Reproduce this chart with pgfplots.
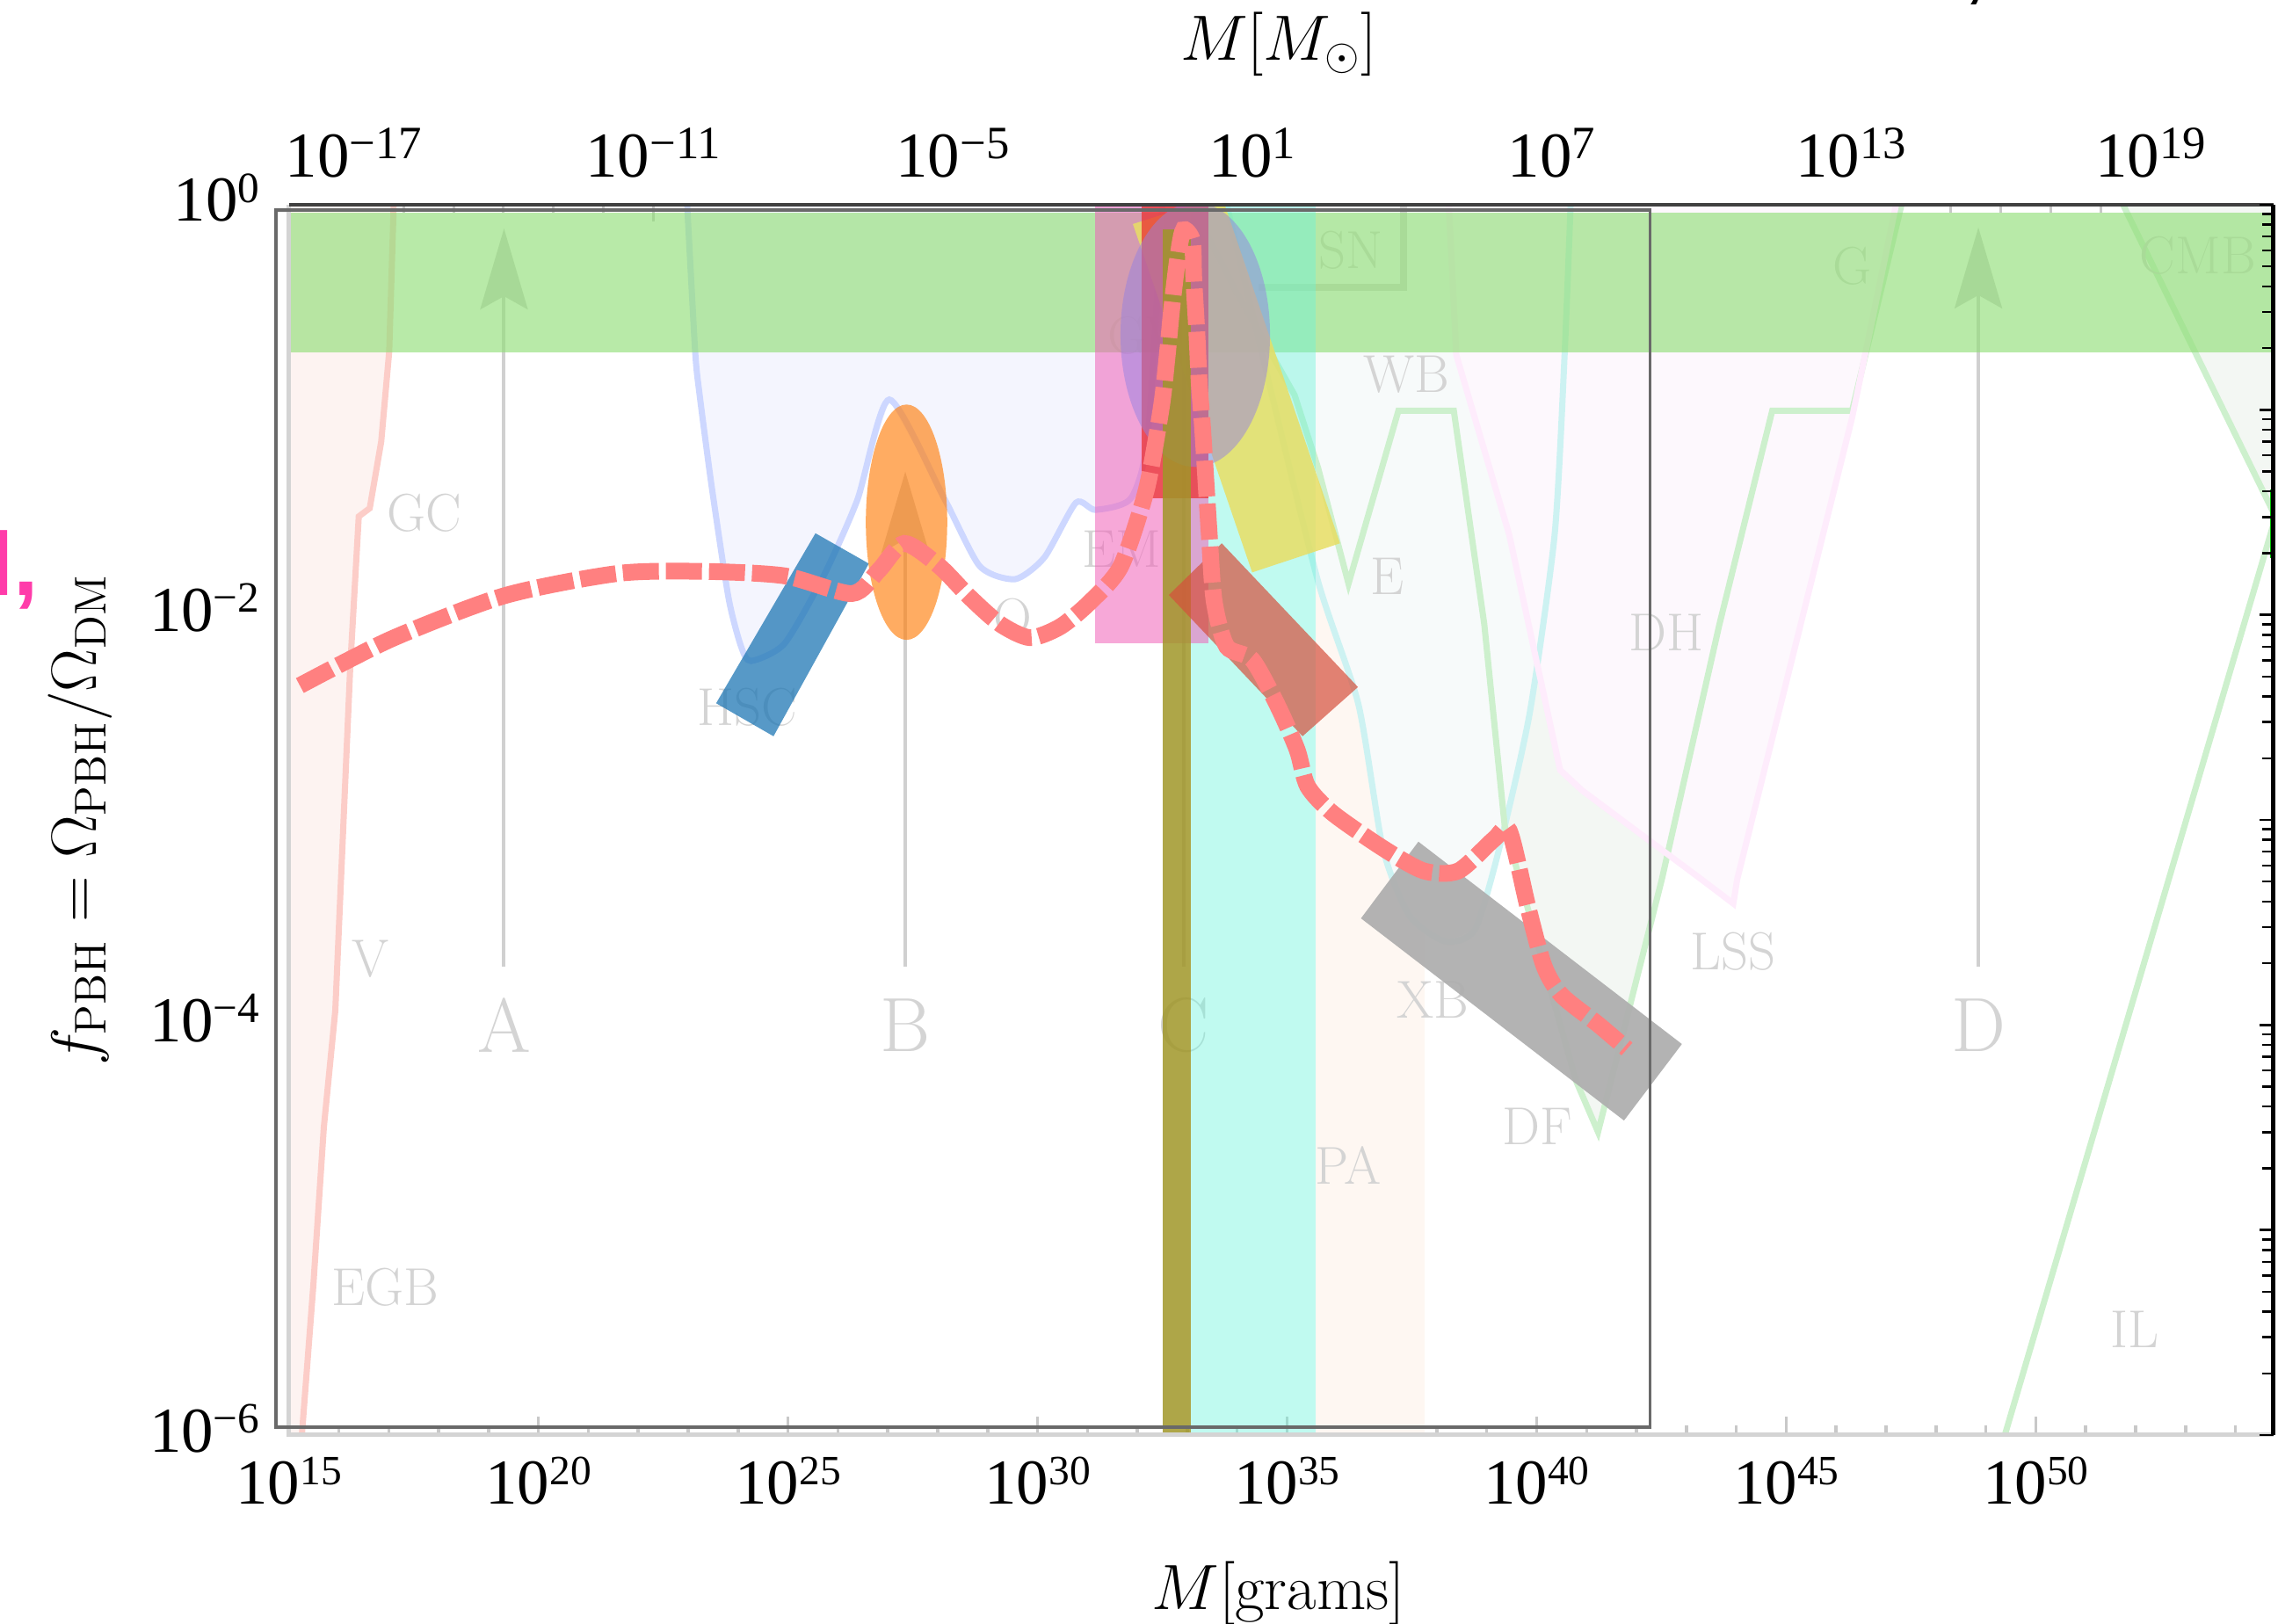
\documentclass[border=0pt]{standalone}
\usepackage{fontspec}
\usepackage{pgfplots}
\pgfplotsset{compat=1.18}
\usetikzlibrary{arrows.meta}
\newfontfamily\tnr{Liberation Serif}
\newfontfamily\lsans{Liberation Sans}
\newcommand{\tk}[2][14]{10\raisebox{0.3em}{\fontsize{#1}{#1}\selectfont #2}}
\definecolor{gband}{RGB}{146,223,121}
\definecolor{pinkr}{RGB}{240,97,184}
\definecolor{redr}{RGB}{235,50,50}
\definecolor{cyanr}{RGB}{105,243,219}
\definecolor{oliver}{RGB}{160,150,40}
\definecolor{yellowr}{RGB}{232,222,100}
\definecolor{lavr}{RGB}{150,130,225}
\definecolor{salmr}{RGB}{214,80,60}
\definecolor{greyr}{RGB}{175,175,175}
\definecolor{bluer}{RGB}{31,119,180}
\definecolor{oranger}{RGB}{255,127,14}
\definecolor{dashc}{RGB}{255,128,128}
\definecolor{lblc}{RGB}{212,212,212}
\definecolor{arrc}{RGB}{208,208,208}
\definecolor{evapline}{RGB}{252,205,200}
\definecolor{evapfill}{RGB}{253,243,241}
\definecolor{blueline}{RGB}{205,215,255}
\definecolor{bluefill}{RGB}{244,245,254}
\definecolor{grline}{RGB}{205,240,205}
\definecolor{grfill}{RGB}{243,247,243}
\definecolor{cyline}{RGB}{205,242,242}
\definecolor{cyfill}{RGB}{247,250,250}
\definecolor{lssline}{RGB}{254,236,252}
\definecolor{lssfill}{RGB}{253,248,253}
\definecolor{peach}{RGB}{254,247,242}
\definecolor{pinktxt}{RGB}{255,60,170}
\definecolor{tickg}{RGB}{200,200,200}
\definecolor{frameg}{RGB}{212,212,212}
\definecolor{boxg}{RGB}{105,105,105}
\tikzset{
  lbl/.style={text=lblc, font=\fontsize{17.28}{20}\selectfont, inner sep=0pt},
  bigl/.style={text=lblc, font=\fontsize{24.88}{28}\selectfont, inner sep=0pt},
  arr/.style={arrc, line width=0.04cm, -{Stealth[length=0.92cm, width=0.54cm, inset=0.15cm]}},
}
\begin{document}
\begin{tikzpicture}
% ---------- top axis ticks (solar masses) ----------
\begin{axis}[at={(0,0)}, anchor=south west, scale only axis,
  width=22.58cm, height=14cm,
  xmode=log, ymode=log, xmin=1e15, xmax=5.754e54, ymin=1e-6, ymax=1,
  axis line style={draw=none},
  ticklabel style={font=\tnr\fontsize{20.74}{24}\selectfont},
  xtick pos=top, ytick=\empty,
  xtick={1.989e16,1.989e22,1.989e28,1.989e34,1.989e40,1.989e46,1.989e52},
  xticklabels={{\tk[15]{−17}},{\tk[15]{−11}},{\tk[15]{−5}},{\tk[15]{1}},{\tk[15]{7}},{\tk[15]{13}},{\tk[15]{19}}},
  minor xtick={1.989e15,1.989e17,1.989e18,1.989e19,1.989e20,1.989e21,1.989e23,1.989e24,1.989e25,1.989e26,1.989e27,1.989e29,1.989e30,1.989e31,1.989e32,1.989e33,1.989e35,1.989e36,1.989e37,1.989e38,1.989e39,1.989e41,1.989e42,1.989e43,1.989e44,1.989e45,1.989e47,1.989e48,1.989e49,1.989e50,1.989e51,1.989e53,1.989e54},
  major tick length=0.19cm, minor tick length=0.09cm,
  tick style={tickg, line width=0.03cm},
  xticklabel style={anchor=base, yshift=0.31cm},
]
\end{axis}
% ---------- main axis with data ----------
\begin{axis}[at={(0,0)}, anchor=south west, scale only axis,
  width=22.58cm, height=14cm,
  xmode=log, ymode=log, xmin=1e15, xmax=5.754e54, ymin=1e-6, ymax=1,
  axis line style={draw=none},
  ticklabel style={font=\tnr\fontsize{20.74}{24}\selectfont},
  xtick pos=bottom, ytick pos=left,
  xtick={1e15,1e20,1e25,1e30,1e35,1e40,1e45,1e50},
  xticklabels={{\tk[13.5]{15}},{\tk[13.5]{20}},{\tk[13.5]{25}},{\tk[13.5]{30}},{\tk[13.5]{35}},{\tk[13.5]{40}},{\tk[13.5]{45}},{\tk[13.5]{50}}},
  minor xtick={1e16,1e17,1e18,1e19,1e21,1e22,1e23,1e24,1e26,1e27,1e28,1e29,1e31,1e32,1e33,1e34,1e36,1e37,1e38,1e39,1e41,1e42,1e43,1e44,1e46,1e47,1e48,1e49,1e51,1e52,1e53,1e54},
  ytick={1e-6,1e-5,1e-4,1e-3,1e-2,1e-1,1},
  yticklabels={{\tk{−6}},{},{\tk{−4}},{},{\tk{−2}},{},{\tk{0}}},
  major tick length=0.21cm, minor tick length=0.11cm,
  tick style={tickg, line width=0.035cm},
  xticklabel style={anchor=base, yshift=-0.78cm},
  yticklabel style={anchor=base east, xshift=-0.21cm, yshift=-0.19cm},
]
% --- underlying constraint plot: fills ---
\addplot[fill=peach, draw=none] coordinates {(3.715e35,1e-6) (5.754e37,1e-6) (5.754e37,1) (3.715e35,1)} -- cycle;
\addplot[fill=evapfill, draw=none] coordinates {(1e15,1e-6) (1.820e15,1e-6) (3.090e15,5.370e-6) (5.012e15,3.162e-5) (8.511e15,1.175e-4) (1.698e16,5.623e-3) (2.512e16,0.0302) (4.169e16,0.03311) (7.079e16,0.06998) (1.023e17,0.1923) (1.259e17,1) (1e15,1)} -- cycle;
\addplot[fill=bluefill, draw=none] coordinates {(9.550e22,1) (1.380e23,0.1923) (1.698e23,0.1180) (2.951e23,0.04246) (6.457e23,0.01205) (1.148e24,0.00701) (1.820e24,0.005957) (8.511e24,0.007244) (5.248e25,0.0156) (2.455e26,0.03639) (1.072e27,0.1122) (1.349e28,0.03698) (6.918e28,0.0173) (3.548e29,0.01493) (1.380e30,0.0191) (5.888e30,0.03524) (1.445e31,0.03251) (7.413e31,0.03698) (1.622e32,0.07464) (3.162e32,1)} -- cycle;
\addplot[fill=grfill, draw=none] coordinates {(1.230e33,1) (9.772e33,0.3724) (1.413e35,0.118) (4.169e35,0.05212) (1.698e36,0.01419) (1.698e37,0.099) (2.188e38,0.099) (8.913e38,0.00902) (2.291e39,9.333e-4) (6.166e40,5.333e-5) (1.698e41,3.006e-5) (3.236e42,5.152e-4) (4.571e43,8.954e-3) (5.248e44,0.099) (2.089e46,0.099) (2.042e47,1)} -- cycle;
\addplot[fill=cyfill, draw=none] coordinates {(6.166e33,1) (3.162e34,0.1862) (4.074e35,0.01486) (2.692e36,0.00365) (8.318e36,7.244e-4) (2.818e37,3.42e-4) (1.479e38,2.553e-4) (5.754e38,2.911e-4) (1.778e39,7.244e-4) (7.244e39,3.311e-3) (2.291e40,0.0246) (3.631e40,0.1862) (4.786e40,1)} -- cycle;
\addplot[fill=lssfill, draw=none] coordinates {(1.738e38,1) (2.455e38,0.1849) (2.818e39,0.0246) (2.951e40,1.75e-3) (8.128e40,1.393e-3) (1.950e43,5.152e-4) (8.710e43,3.908e-4) (1.047e44,5.152e-4) (2.089e46,0.09141) (1.585e47,1)} -- cycle;
\addplot[fill=grfill, draw=none] coordinates {(5.623e51,1) (5.754e54,1) (5.754e54,0.03162)} -- cycle;
% --- underlying lines ---
\addplot[evapline, line width=0.07cm] coordinates {(1.820e15,1e-6) (3.090e15,5.370e-6) (5.012e15,3.162e-5) (8.511e15,1.175e-4) (1.698e16,5.623e-3) (2.512e16,0.0302) (4.169e16,0.03311) (7.079e16,0.06998) (1.023e17,0.1923) (1.259e17,1)};
\addplot[blueline, line width=0.07cm, smooth, tension=0.4] coordinates {(9.550e22,1) (1.380e23,0.1923) (1.698e23,0.1180) (2.951e23,0.04246) (6.457e23,0.01205) (1.148e24,0.00701) (1.820e24,0.005957) (8.511e24,0.007244) (5.248e25,0.0156) (2.455e26,0.03639) (1.072e27,0.1122) (1.349e28,0.03698) (6.918e28,0.0173) (3.548e29,0.01493) (1.380e30,0.0191) (5.888e30,0.03524) (1.445e31,0.03251) (7.413e31,0.03698) (1.622e32,0.07464) (3.162e32,1)};
\addplot[cyline, line width=0.07cm, smooth, tension=0.4] coordinates {(6.166e33,1) (3.162e34,0.1862) (4.074e35,0.01486) (2.692e36,0.00365) (8.318e36,7.244e-4) (2.818e37,3.42e-4) (1.479e38,2.553e-4) (5.754e38,2.911e-4) (1.778e39,7.244e-4) (7.244e39,3.311e-3) (2.291e40,0.0246) (3.631e40,0.1862) (4.786e40,1)};
\addplot[grline, line width=0.07cm] coordinates {(1.230e33,1) (9.772e33,0.3724) (1.413e35,0.118) (4.169e35,0.05212) (1.698e36,0.01419) (1.698e37,0.099) (2.188e38,0.099) (8.913e38,0.00902) (2.291e39,9.333e-4) (6.166e40,5.333e-5) (1.698e41,3.006e-5) (3.236e42,5.152e-4) (4.571e43,8.954e-3) (5.248e44,0.099) (2.089e46,0.099) (2.042e47,1)};
\addplot[lssline, line width=0.07cm] coordinates {(1.738e38,1) (2.455e38,0.1849) (2.818e39,0.0246) (2.951e40,1.75e-3) (8.128e40,1.393e-3) (1.950e43,5.152e-4) (8.710e43,3.908e-4) (1.047e44,5.152e-4) (2.089e46,0.09141) (1.585e47,1)};
\addplot[grline, line width=0.07cm] coordinates {(5.623e51,1) (5.754e54,0.03162)};
\addplot[grline, line width=0.07cm] coordinates {(2.399e49,1e-6) (5.754e54,0.02754)};
\addplot[green!75!black, line width=0.07cm] coordinates {(5.6e54,0.041) (5.6e54,0.019)};
\addplot[lblc, line width=0.08cm] coordinates {(2.63e34,0.3945) (2.138e37,0.3945) (2.138e37,1.2)};
% arrows
\addplot[arr] coordinates {(2.042e19,1.93e-4) (2.042e19,0.766)};
\addplot[arr] coordinates {(2.239e27,1.93e-4) (2.239e27,0.0499)};
\addplot[arr] coordinates {(8.511e32,1.93e-4) (8.511e32,0.6)};
\addplot[arr] coordinates {(7.079e48,1.93e-4) (7.079e48,0.775)};
% labels of the constraints
\node[lbl] at (axis cs:5.129e17,0.03141) {GC};
\node[lbl] at (axis cs:4.365e16,2.099e-4) {V};
\node[lbl] at (axis cs:8.511e16,5.248e-6) {EGB};
\node[lbl] at (axis cs:1.514e24,3.532e-3) {HSC};
\node[lbl] at (axis cs:3.162e29,9.705e-3) {O};
\node[lbl] at (axis cs:4.786e31,0.02089) {EM};
\node[lbl, anchor=west] at (axis cs:2.455e31,0.2307) {GW};
\node[lbl] at (axis cs:1.905e36,0.6026) {SN};
\node[lbl] at (axis cs:2.455e37,0.1483) {WB};
\node[lbl] at (axis cs:1.023e37,0.01535) {E};
\node[lbl] at (axis cs:3.981e42,8.241e-3) {DH};
\node[lbl] at (axis cs:8.318e37,1.327e-4) {XB};
\node[lbl] at (axis cs:8.710e43,2.275e-4) {LSS};
\node[lbl] at (axis cs:1.023e40,3.214e-5) {DF};
\node[lbl] at (axis cs:1.660e36,2.065e-5) {PA};
\node[lbl] at (axis cs:2.089e46,0.5035) {G};
\node[lbl] at (axis cs:1.778e53,0.5649) {CMB};
\node[lbl] at (axis cs:9.772e51,3.273e-6) {IL};
\node[bigl] at (axis cs:2.042e19,1e-4) {A};
\node[bigl] at (axis cs:2.239e27,1e-4) {B};
\node[bigl] at (axis cs:8.511e32,1e-4) {C};
\node[bigl] at (axis cs:7.079e48,1e-4) {D};
% --- green band ---
\addplot[fill=gband, fill opacity=0.65, draw=none] coordinates {(1e15,0.191) (5.754e54,0.191) (5.754e54,0.918) (1e15,0.918)} -- cycle;
% --- overlaid shapes ---
\addplot[fill=cyanr, fill opacity=0.42, draw=none] coordinates {(1.202e33,1e-6) (3.715e35,1e-6) (3.715e35,1) (1.202e33,1)} -- cycle;
\addplot[fill=pinkr, fill opacity=0.55, draw=none] coordinates {(1.413e31,0.00724) (2.692e33,0.00724) (2.692e33,1) (1.413e31,1)} -- cycle;
\addplot[fill=yellowr, fill opacity=0.85, draw=none] coordinates {(8.128e31,0.8054) (4.898e33,1.103) (1.148e36,0.02234) (1.995e34,0.01611)} -- cycle;
\addplot[fill=redr, fill opacity=0.75, draw=none] coordinates {(1.230e32,0.0372) (2.692e33,0.0372) (2.692e33,1) (1.230e32,1)} -- cycle;
\fill[lavr, fill opacity=0.5] (axis cs:1.445e33,0.2323) ellipse [x radius=0.8505cm, y radius=1.504cm];
\addplot[fill=oliver, fill opacity=0.85, draw=none] coordinates {(3.236e32,1e-6) (1.202e33,1e-6) (1.202e33,0.7577) (3.236e32,0.7577)} -- cycle;
\addplot[fill=salmr, fill opacity=0.7, draw=none] coordinates {(4.898e33,0.02234) (2.630e36,4.446e-3) (2.042e35,2.559e-3) (4.266e32,0.0125)} -- cycle;
\addplot[fill=greyr, fill opacity=0.95, draw=none] coordinates {(4.266e37,7.834e-4) (8.128e42,8.072e-5) (5.623e41,3.420e-5) (3.020e36,3.311e-4)} -- cycle;
\addplot[fill=bluer, fill opacity=0.75, draw=none] coordinates {(3.548e25,0.025) (4.169e26,0.01778) (5.129e24,2.559e-3) (3.631e23,3.707e-3)} -- cycle;
\fill[oranger, fill opacity=0.65] (axis cs:2.371e27,0.02831) ellipse [x radius=0.463cm, y radius=1.339cm];
% --- dashed curve ---
\addplot[dashc, line width=0.19cm, dash pattern=on 0.41cm off 0.08cm, smooth, tension=0.45] coordinates {(1.660e15,0.00452) (1.175e17,0.00766) (2.089e19,0.0124) (3.715e21,0.0159) (1.778e23,0.0163) (8.511e24,0.0155) (1.905e26,0.0127) (6.607e26,0.0165) (2.138e27,0.0223) (1.072e28,0.0173) (4.365e28,0.0122) (1.778e29,0.00902) (7.079e29,0.00774) (2.884e30,0.00877) (1.148e31,0.0116) (4.677e31,0.0173) (1.514e32,0.0408) (3.020e32,0.103) (3.981e32,0.1862) (4.898e32,0.3155) (6.457e32,0.5521) (8.318e32,0.7534) (1.259e33,0.6714) (1.349e33,0.4375) (1.549e33,0.2421) (1.738e33,0.134) (2.042e33,0.0793) (2.754e33,0.0247) (3.467e33,0.0116) (6.166e33,0.00701) (1.995e34,0.00605) (6.310e34,0.00365) (1.585e35,0.0022) (2.570e35,0.00146) (8.128e35,0.00108) (8.318e36,7.28e-4) (5.495e37,5.64e-4) (2.692e38,5.64e-4) (1.380e39,8.035e-4) (2.818e39,8.872e-4) (6.761e39,3.715e-4) (1.413e40,1.932e-4) (3.162e40,1.396e-4) (1.698e41,1.007e-4) (6.457e41,7.638e-5)};
\coordinate (obl) at (axis cs:5.559e14,1.091e-6);
\coordinate (otr) at (axis cs:1.862e42,0.9426);
\end{axis}
% ---------- frames ----------
\draw[frameg, line width=0.05cm] (0,14) -- (0,0) -- (22.58,0);
\draw[black!75, line width=0.035cm] (0,14) -- (22.58,14);
\draw[black, line width=0.05cm] (22.58,0) -- (22.58,14);
\draw[boxg, line width=0.035cm] (obl) rectangle (otr);
% ---------- right ticks ----------
\begin{axis}[at={(0,0)}, anchor=south west, scale only axis,
  width=22.58cm, height=14cm,
  xmode=log, ymode=log, xmin=1e15, xmax=5.754e54, ymin=1e-6, ymax=1,
  axis line style={draw=none},
  xtick=\empty, ytick pos=right,
  ytick={1e-6,1e-5,1e-4,1e-3,1e-2,1e-1,1},
  yticklabels={{},{},{},{},{},{},{}},
  minor ytick={2e-6,3e-6,4e-6,5e-6,6e-6,7e-6,8e-6,9e-6,2e-5,3e-5,4e-5,5e-5,6e-5,7e-5,8e-5,9e-5,2e-4,3e-4,4e-4,5e-4,6e-4,7e-4,8e-4,9e-4,0.002,0.003,0.004,0.005,0.006,0.007,0.008,0.009,0.02,0.03,0.04,0.05,0.06,0.07,0.08,0.09,0.2,0.3,0.4,0.5,0.6,0.7,0.8,0.9},
  major tick length=0.16cm, minor tick length=0.13cm,
  tick style={black, line width=0.025cm},
]
\end{axis}
% ---------- axis titles ----------
\node[font=\fontsize{20.74}{25}\selectfont] at (11.26,-1.80) {$M[\mathrm{grams}]$};
\node[font=\fontsize{20.74}{25}\selectfont] at (11.26,15.83) {$M[M_{\odot}]$};
\node[font=\fontsize{20.74}{25}\selectfont, rotate=90] at (-2.377,7.0) {$f_{\mathrm{PBH}}=\Omega_{\mathrm{PBH}}/\Omega_{\mathrm{DM}}$};
\node[anchor=base east, text=pinktxt, font=\lsans\bfseries\fontsize{29}{30}\selectfont, inner sep=0pt] at (-2.837,9.55) {l,};
\node[anchor=base, font=\lsans\fontsize{29}{30}\selectfont, inner sep=0pt] at (19.19,16.40) {,};
\pgfresetboundingbox
\path[use as bounding box] (-3.287,-2.15) rectangle (22.633,16.33);
\end{tikzpicture}
\end{document}
